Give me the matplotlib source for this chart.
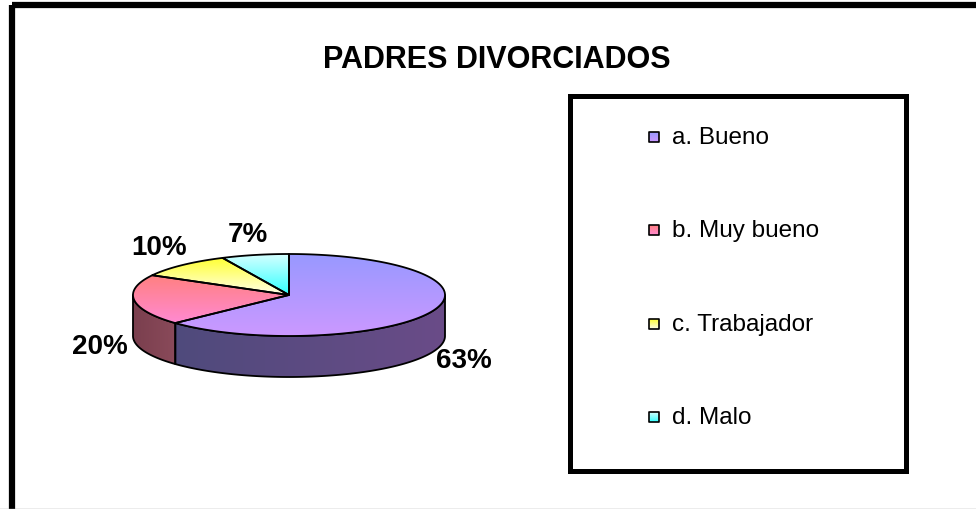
import numpy as np
import matplotlib.pyplot as plt
from matplotlib.patches import Polygon, Rectangle
from matplotlib.colors import LinearSegmentedColormap

plt.rcParams['font.family'] = ['Liberation Sans', 'DejaVu Sans']

# ── Data ───────────────────────────────────────────────────────────────────────
title = 'PADRES DIVORCIADOS'
categories = ['a. Bueno', 'b. Muy bueno', 'c. Trabajador', 'd. Malo']
values = [63, 20, 10, 7]

# gradient colours (top face: upper -> lower, side: left -> right)
top_colors = [('#9898ff', '#cc99ff'), ('#ff8080', '#ff8ad2'),
              ('#ffff30', '#ffffea'), ('#d6ffff', '#30ffff')]
side_colors = [('#4f4a7c', '#6a4c88'), ('#7a3f4e', '#8a4a5a'),
               ('#80802a', '#8a8a40'), ('#2a8080', '#3a8a8a')]

# ── Geometry (pixels) ─────────────────────────────────────────────────────────
W, H = 976, 510
cx, cy = 289, 296       # centre of top ellipse
ra, rb = 156, 41        # semi axes
depth = 41              # pie thickness


def ell(theta):
    t = np.radians(theta)
    return cx + ra * np.cos(t), cy - rb * np.sin(t)


def grad_fill(ax, verts, c0, c1, z, horizontal=False, lw=1.3):
    patch = Polygon(verts, closed=True, facecolor='none', edgecolor='black',
                    lw=lw, zorder=z + 0.5, joinstyle='round')
    ax.add_patch(patch)
    xs, ys = verts[:, 0], verts[:, 1]
    cmap = LinearSegmentedColormap.from_list('g', [c0, c1])
    g = np.linspace(0, 1, 256)
    arr = g.reshape(1, -1) if horizontal else g.reshape(-1, 1)
    im = ax.imshow(arr, cmap=cmap, extent=(xs.min(), xs.max(), ys.max(), ys.min()),
                   origin='upper', aspect='auto', zorder=z, interpolation='bilinear')
    im.set_clip_path(patch)


fig = plt.figure(figsize=(W / 100, H / 100), dpi=100)
ax = fig.add_axes([0, 0, 1, 1])
ax.set_axis_off()

# slice angles: start at 12 o'clock, clockwise
fracs = np.array(values) / sum(values)
ends = 90 - 360 * np.cumsum(fracs)
starts = np.concatenate([[90], ends[:-1]])

# side faces (front half, theta in 180..360)
for i in range(len(values)):
    lo, hi = ends[i] % 360, starts[i] % 360
    if hi <= lo:
        hi += 360
    a0, a1 = max(lo, 180), min(hi, 360)
    if a1 <= a0:
        continue
    th = np.linspace(a0, a1, 120)
    x, y = ell(th)
    verts = np.column_stack([np.concatenate([x, x[::-1]]),
                             np.concatenate([y, y[::-1] + depth])])
    grad_fill(ax, verts, side_colors[i][0], side_colors[i][1], 2, horizontal=True)

# top faces
for i in range(len(values)):
    th = np.linspace(starts[i], ends[i], 200)
    x, y = ell(th)
    verts = np.column_stack([np.concatenate([[cx], x]), np.concatenate([[cy], y])])
    grad_fill(ax, verts, top_colors[i][0], top_colors[i][1], 4)

# percentage labels
for i in range(len(values)):
    mid = (starts[i] + ends[i]) / 2
    lx, ly = ell(mid)
    lx = cx + (lx - cx) * 1.22
    ly = cy + (ly - cy) * 1.22
    ly += depth + 4 if np.sin(np.radians(mid)) < 0 else -12
    ax.text(lx, ly, f'{values[i]}%', ha='center', va='center',
            fontsize=20, fontweight='bold', zorder=6)

# title
ax.text(497, 60, title, ha='center', va='center', fontsize=22, fontweight='bold')

# legend box
ax.add_patch(Rectangle((570, 97), 336, 375, facecolor='white', edgecolor='black',
                       lw=3.6, zorder=3))
for i, name in enumerate(categories):
    yy = 138 + i * 93.3
    sq = np.array([[649, yy - 5], [659, yy - 5], [659, yy + 5], [649, yy + 5]])
    grad_fill(ax, sq, top_colors[i][0], top_colors[i][1], 4, lw=1.2)
    ax.text(672, yy, name, ha='left', va='center', fontsize=17.5, zorder=5)

# outer frame
ax.add_patch(Rectangle((12, 6), 2000, 2000, fill=False, edgecolor='black', lw=4.5,
                       zorder=8))
ax.plot([0, W], [509.5, 509.5], color='#a0a0a0', lw=1, zorder=8)

ax.set_xlim(0, W)
ax.set_ylim(H, 0)

fig.savefig('out.png', dpi=100)
